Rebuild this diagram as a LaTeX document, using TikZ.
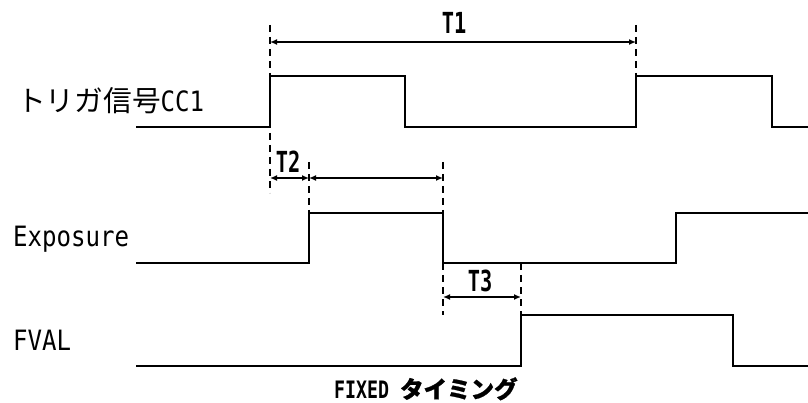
\documentclass[tikz,border=0pt]{standalone}
\usepackage{fontspec}
\setmonofont{DejaVu Sans Mono}[FakeStretch=0.86]
\newfontfamily\tmono{DejaVu Sans Mono}[FakeStretch=0.7]
\newfontfamily\cmono{DejaVu Sans Mono}[FakeStretch=0.76]
\newfontfamily\jpfont{Noto Sans CJK JP}
\newfontfamily\jpbold{Noto Sans CJK JP}[FakeBold=1]
\usetikzlibrary{arrows.meta}

\begin{document}
\begin{tikzpicture}[x=1pt, y=-1pt,
    signal/.style={line width=2pt, line join=miter},
    guide/.style={line width=1.5pt, dash pattern=on 7pt off 5pt},
    span/.style={line width=2pt, {Latex[length=7pt,width=6pt]}-{Latex[length=7pt,width=6pt]}},
    spanlabel/.style={font=\tmono\bfseries\fontsize{29}{29}\selectfont, inner sep=0pt},
    rowlabel/.style={font=\ttfamily\fontsize{28}{28}\selectfont, inner sep=0pt, anchor=base west}]
    \useasboundingbox (0,0) rectangle (808,403);

    % signals
    \draw[signal] (136,127) -- (270,127) -- (270,76) -- (405,76) -- (405,127) -- (636,127)
        -- (636,76) -- (772,76) -- (772,127) -- (808,127);
    \draw[signal] (136,263) -- (309,263) -- (309,213) -- (443,213) -- (443,263) -- (676,263)
        -- (676,213) -- (808,213);
    \draw[signal] (136,366) -- (521,366) -- (521,315) -- (733,315) -- (733,366) -- (808,366);

    % guides
    \draw[guide] (270,25) -- (270,193);
    \draw[guide] (636,25) -- (636,76);
    \draw[guide] (309,162) -- (309,213);
    \draw[guide] (443,162) -- (443,213);
    \draw[guide] (443,263) -- (443,315);
    \draw[guide] (521,263) -- (521,315);

    % spans
    \draw[span] (270,42) -- (636,42);
    \draw[span] (270,178) -- (309,178);
    \draw[span] (309,178) -- (443,178);
    \draw[span] (443,297) -- (521,297);

    \node[spanlabel] (t1) at (454,23) {T1};
    \node[spanlabel] (t2) at (288,162) {T2};
    \node[spanlabel] (t3) at (480,281) {T3};

    % labels
    \node[rowlabel] (trig) at (17,112) {{\jpfont\fontsize{28.7}{28.7}\selectfont トリガ信号}CC1};
    \node[rowlabel] (expo) at (13,247) {Exposure};
    \node[rowlabel] (fval) at (13,350) {FVAL};
    \node[rowlabel, font=\cmono\bfseries\fontsize{24}{24}\selectfont] (cap) at (334,398)
        {FIXED {\jpbold\fontsize{23.5}{23.5}\selectfont タイミング}};
\end{tikzpicture}
\end{document}
